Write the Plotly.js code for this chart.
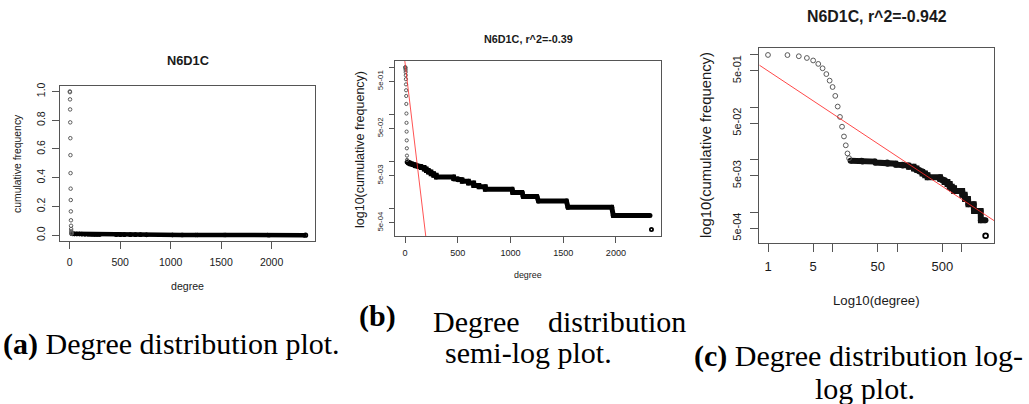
<!DOCTYPE html>
<html>
<head>
<meta charset="utf-8">
<script src="https://cdn.plot.ly/plotly-3.0.1.min.js"></script>
<style>
  html, body { margin: 0; padding: 0; background: #fff; }
  #fig { width: 1029px; height: 404px; }
</style>
</head>
<body>
<div id="fig"></div>
<script>
// Network N6D1C: cumulative frequency of node degree.

const networkName = "N6D1C";

// Low degrees, one value per degree.
const headDegree = [1, 2, 3, 4, 5, 6, 7, 8, 9, 10, 11, 12, 13, 14, 15, 16, 17, 18];
const headFreq = [1.0, 0.995, 0.945, 0.875, 0.785, 0.675, 0.557, 0.432, 0.324, 0.245,
                  0.166, 0.104, 0.066, 0.043, 0.028, 0.019, 0.0133, 0.0108];

// Higher degrees: runs of consecutive degrees that share one cumulative frequency.
const runStart = [19, 29, 46, 71, 96, 121, 151, 181, 201, 221, 246, 271, 296, 461, 501, 541,
                  601, 651, 701, 761, 1020, 1120, 1265, 1545, 1975];
const runEnd   = [28, 45, 70, 95, 120, 150, 180, 200, 220, 245, 270, 295, 460, 500, 540, 600,
                  650, 700, 760, 1015, 1110, 1250, 1530, 1960, 2323];
const runFreq  = [0.0097, 0.0093, 0.0089, 0.0085, 0.0081, 0.0078, 0.0074, 0.0069, 0.0064,
                  0.0060, 0.0055, 0.0051, 0.0047, 0.0043, 0.0041, 0.0038, 0.0035, 0.0031,
                  0.0029, 0.00256, 0.00218, 0.00181, 0.00144, 0.00107, 0.000713];

// Largest degree.
const maxDegree = [2337];
const maxDegreeFreq = [0.00036];

// Least-squares fits of log10(cumulative frequency).
const semiLogIntercept = 0.072;   // against degree
const semiLogSlope = -0.0187;
const semiLogR2 = "-0.39";
const logLogIntercept = -0.304;   // against log10(degree)
const logLogSlope = -0.815;
const logLogR2 = "-0.942";

// ---------------------------------------------------------------------------
const W = 1029, H = 404;
const fx = p => p / W;
const fy = p => 1 - p / H;

// Runs become one connected path: each run contributes its first and last degree.
const runX = [], runY = [];
runStart.forEach((s, i) => {
  runX.push(s, runEnd[i]);
  runY.push(runFreq[i], runFreq[i]);
});

const AXIS_FONT = "Liberation Sans, Arial, sans-serif";
const INK = "#1a1a1a";
const FRAME = "#555";

const degreeRange = [-93.5, 2430.5];
const logFreqRange = [-3.582, 0.138];
const logDegreeRange = [-0.1347, 3.5034];

function panelTraces(xa, ya, sizes) {
  return [
    {
      x: runX, y: runY, xaxis: xa, yaxis: ya, type: "scatter", mode: "lines+markers",
      line: { color: sizes.bandColor || "#000", width: sizes.band },
      marker: { symbol: "circle", size: sizes.band, color: sizes.bandColor || "#000" },
      hoverinfo: "skip", showlegend: false
    },
    {
      x: headDegree, y: headFreq, xaxis: xa, yaxis: ya, type: "scatter", mode: "markers",
      marker: { symbol: "circle-open", size: sizes.head, color: "#5a5a5a", line: { width: 1, color: "#5a5a5a" } },
      hoverinfo: "skip", showlegend: false
    },
    {
      x: maxDegree, y: maxDegreeFreq, xaxis: xa, yaxis: ya, type: "scatter", mode: "markers",
      marker: { symbol: "circle-open", size: sizes.head, color: "#000", line: { width: 1.8, color: "#000" } },
      hoverinfo: "skip", showlegend: false
    }
  ];
}

const traces = [];
traces.push(...panelTraces("x", "y", { band: 4.5, head: 3.5 }));
traces.push(...panelTraces("x2", "y2", { band: 5, head: 3.2 }));
traces.push(...panelTraces("x3", "y3", { band: 6, head: 4.8, bandColor: "#111" }));

// Semi-log fit line, evaluated at the ends of the degree axis.
traces.push({
  x: degreeRange,
  y: degreeRange.map(d => Math.pow(10, semiLogIntercept + semiLogSlope * d)),
  xaxis: "x2", yaxis: "y2", type: "scatter", mode: "lines",
  line: { color: "rgba(255,40,40,0.8)", width: 1 }, hoverinfo: "skip", showlegend: false
});
// Log-log fit line.
traces.push({
  x: logDegreeRange.map(l => Math.pow(10, l)),
  y: logDegreeRange.map(l => Math.pow(10, logLogIntercept + logLogSlope * l)),
  xaxis: "x3", yaxis: "y3", type: "scatter", mode: "lines",
  line: { color: "rgba(255,40,40,0.85)", width: 1 }, hoverinfo: "skip", showlegend: false
});

function axisBase(domain, fontSize, ticklen, anchor, standoff) {
  return {
    domain: domain, anchor: anchor,
    showline: true, mirror: true, linecolor: FRAME, linewidth: 1,
    ticks: "outside", ticklen: ticklen, tickwidth: 1, tickcolor: FRAME,
    showgrid: false, zeroline: false,
    tickfont: { family: AXIS_FONT, size: fontSize, color: INK },
    ticklabelstandoff: standoff || 0,
    fixedrange: true
  };
}

const logFreqTicks = [1, 0.5, 0.1, 0.05, 0.01, 0.005, 0.001, 0.0005];
const logFreqText = ["", "5e-01", "", "5e-02", "", "5e-03", "", "5e-04"];

const layout = {
  width: W, height: H,
  margin: { l: 0, r: 0, t: 0, b: 0 },
  paper_bgcolor: "#fff", plot_bgcolor: "#fff",
  showlegend: false,
  xaxis: Object.assign(axisBase([fx(60.3), fx(315)], 10.5, 7, "y", 4), {
    range: degreeRange, tickvals: [0, 500, 1000, 1500, 2000]
  }),
  yaxis: Object.assign(axisBase([fy(241), fy(85.7)], 10.5, 7, "x", 3), {
    range: [-0.04, 1.04], tickvals: [0, 0.2, 0.4, 0.6, 0.8, 1.0], tickformat: ".1f", tickangle: -90
  }),
  xaxis2: Object.assign(axisBase([fx(395.3), fx(661.3)], 9.1, 5.5, "y2", 3), {
    range: degreeRange, tickvals: [0, 500, 1000, 1500, 2000]
  }),
  yaxis2: Object.assign(axisBase([fy(236), fy(60.7)], 7.8, 5.5, "x2", 3), {
    type: "log", range: logFreqRange, tickvals: logFreqTicks, ticktext: logFreqText, tickangle: -90
  }),
  xaxis3: Object.assign(axisBase([fx(759.3), fx(994.3)], 13, 8, "y3", 3), {
    type: "log", range: logDegreeRange,
    tickvals: [1, 5, 10, 50, 100, 500, 1000], ticktext: ["1", "5", "", "50", "", "500", ""]
  }),
  yaxis3: Object.assign(axisBase([fy(243), fy(47.7)], 11, 8, "x3", 5), {
    type: "log", range: logFreqRange, tickvals: logFreqTicks, ticktext: logFreqText, tickangle: -90
  }),
  annotations: []
};

function note(text, x, y, size, opts) {
  layout.annotations.push(Object.assign({
    text: text, x: fx(x), y: fy(y), xref: "paper", yref: "paper",
    showarrow: false, xanchor: "center", yanchor: "middle",
    font: { family: AXIS_FONT, size: size, color: INK }
  }, opts || {}));
}

// Panel titles and axis titles.
note("<b>" + networkName + "</b>", 187.7, 60, 12.8);
note("degree", 187.7, 286, 10.6);
note("cumulative frequency", 17.5, 163.4, 10.4, { textangle: -90 });

note("<b>" + networkName + ", r^2=" + semiLogR2 + "</b>", 528.7, 39, 10.8);
note("degree", 528.3, 275, 8.9);
note("log10(cumulative frequency)", 360, 150, 12.5, { textangle: -90 });

note("<b>" + networkName + ", r^2=" + logLogR2 + "</b>", 876.7, 16, 15.9);
note("Log10(degree)", 876.8, 300, 13.2);
note("log10(cumulative frequency)", 706.7, 145.3, 14.8, { textangle: -90 });

// Sub-figure captions.
const CAP = { family: "Liberation Serif, Times New Roman, serif", size: 30, color: "#000" };
note("<b>(a)</b> Degree distribution plot.", 1, 344, 30, { xanchor: "left", font: CAP });
note("<b>(b)</b>", 357, 316, 30, { xanchor: "left", font: CAP });
note("Degree", 431, 321, 30, { xanchor: "left", font: CAP });
note("distribution", 688, 321, 30, { xanchor: "right", font: CAP });
note("semi-log plot.", 443, 352, 30, { xanchor: "left", font: CAP });
note("<b>(c)</b> Degree distribution log-", 692, 356, 30, { xanchor: "left", font: CAP });
note("log plot.", 813, 388, 30, { xanchor: "left", font: CAP });

Plotly.newPlot("fig", traces, layout, { staticPlot: true, displayModeBar: false });
</script>
</body>
</html>
